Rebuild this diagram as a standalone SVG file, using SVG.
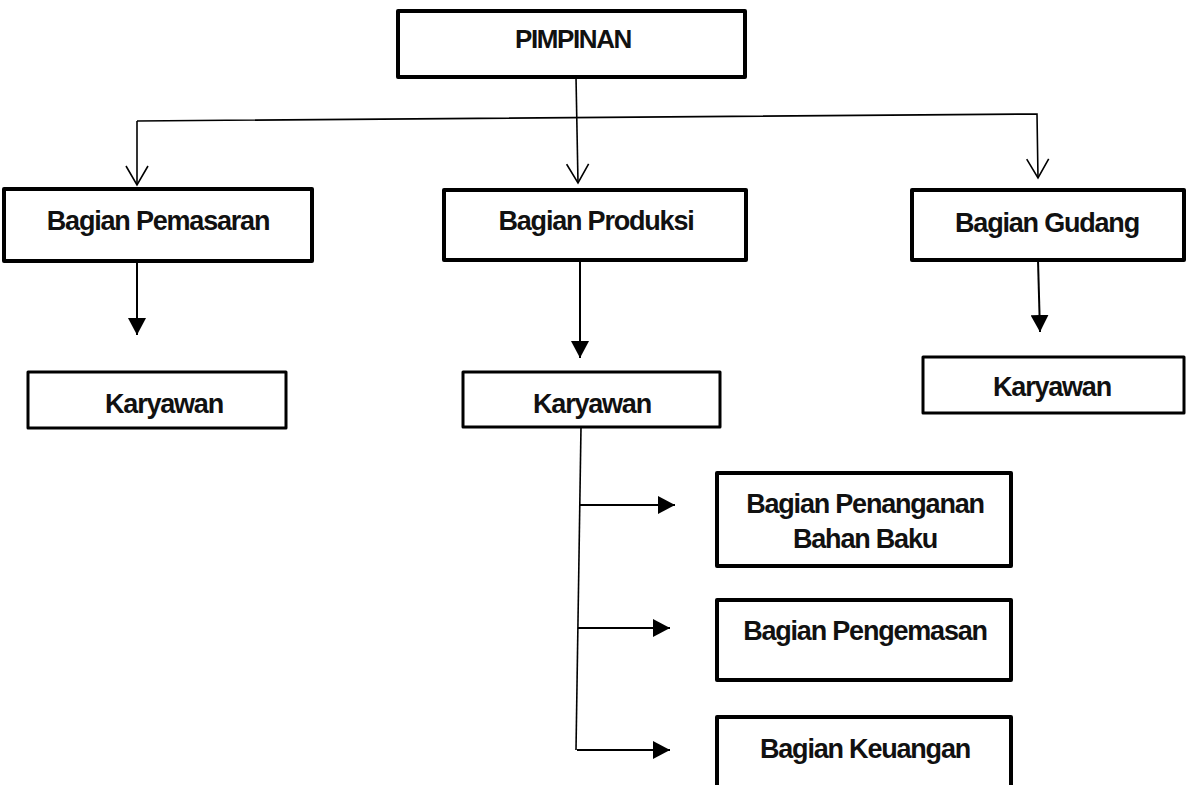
<svg xmlns="http://www.w3.org/2000/svg" width="1186" height="785" viewBox="0 0 1186 785">
<style>
.box{fill:#fff;stroke:#000;stroke-width:4;stroke-linejoin:round}
.box2{fill:#fff;stroke:#000;stroke-width:3;stroke-linejoin:round}
.t{font-family:"Liberation Sans",Arial,sans-serif;font-weight:bold;font-size:27px;fill:#111;text-anchor:middle;letter-spacing:-1.2px}
.ln{fill:none;stroke:#000;stroke-width:1.6}
.ln2{fill:none;stroke:#000;stroke-width:2}
</style>
<defs>
<marker id="open" markerUnits="userSpaceOnUse" viewBox="-21 -12 23 24" refX="0" refY="0" markerWidth="23" markerHeight="24" orient="auto">
<path d="M-19,-11 L0,0 L-19,11" fill="none" stroke="#000" stroke-width="1.6"/>
</marker>
<marker id="fill" markerUnits="userSpaceOnUse" viewBox="-17 -9 17 18" refX="0" refY="0" markerWidth="17" markerHeight="18" orient="auto">
<path d="M-17,-9 L0,0 L-17,9 Z" fill="#000"/>
</marker>
</defs>
<rect width="1186" height="785" fill="#fff"/>
<g id="connectors">
<path class="ln" d="M137,121 L1037,114 L1038,178" marker-end="url(#open)"/>
<path class="ln" d="M137,121 L137,185" marker-end="url(#open)"/>
<path class="ln" d="M576,77 L578,183" marker-end="url(#open)"/>
<path class="ln2" d="M137,261 L137,335" marker-end="url(#fill)"/>
<path class="ln2" d="M580,260 L580,358" marker-end="url(#fill)"/>
<path class="ln2" d="M1038,260 L1040,332" marker-end="url(#fill)"/>
<path class="ln" d="M581,427 L576,750"/>
<path class="ln2" d="M580,505 L675,505" marker-end="url(#fill)"/>
<path class="ln2" d="M578,628 L670,628" marker-end="url(#fill)"/>
<path class="ln2" d="M577,750 L670,750" marker-end="url(#fill)"/>
</g>
<g id="pimpinan">
<rect class="box" x="398" y="11" width="347" height="66"/>
<text class="t" x="573" y="48" style="font-size:26px;letter-spacing:-1.4px">PIMPINAN</text>
</g>
<g id="pemasaran">
<rect class="box" x="4" y="189" width="308" height="72"/>
<text class="t" x="158" y="230">Bagian Pemasaran</text>
</g>
<g id="produksi">
<rect class="box" x="444" y="190" width="302" height="70"/>
<text class="t" x="596" y="230">Bagian Produksi</text>
</g>
<g id="gudang">
<rect class="box" x="912" y="190" width="272" height="70"/>
<text class="t" x="1047" y="232">Bagian Gudang</text>
</g>
<g id="karyawan1">
<rect class="box2" x="28" y="372" width="258" height="56"/>
<text class="t" x="164" y="413">Karyawan</text>
</g>
<g id="karyawan2">
<rect class="box2" x="463" y="372" width="257" height="55"/>
<text class="t" x="592" y="413">Karyawan</text>
</g>
<g id="karyawan3">
<rect class="box2" x="923" y="357" width="261" height="56"/>
<text class="t" x="1052" y="396">Karyawan</text>
</g>
<g id="penanganan">
<rect class="box" x="717" y="473" width="294" height="93"/>
<text class="t" x="865" y="513">Bagian Penanganan</text>
<text class="t" x="865" y="548">Bahan Baku</text>
</g>
<g id="pengemasan">
<rect class="box" x="717" y="600" width="294" height="80"/>
<text class="t" x="865" y="640">Bagian Pengemasan</text>
</g>
<g id="keuangan">
<rect class="box" x="717" y="717" width="294" height="80"/>
<text class="t" x="865" y="758">Bagian Keuangan</text>
</g>
</svg>
